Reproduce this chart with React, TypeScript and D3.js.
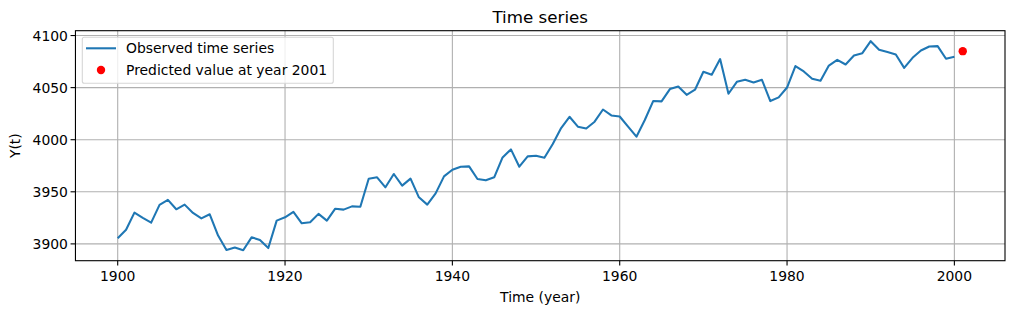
import React from "react";
import * as d3 from "d3";

const years: number[] = d3.range(1900, 2001);
const values: number[] = [
  3905.4, 3913.5, 3930.0, 3924.9, 3920.4, 3937.4, 3942.2, 3933.2, 3937.7, 3929.7,
  3924.5, 3928.4, 3908.0, 3894.2, 3896.5, 3893.9, 3906.3, 3903.8, 3896.0, 3922.3,
  3925.5, 3930.7, 3919.8, 3920.7, 3928.8, 3922.3, 3933.8, 3932.9, 3936.0, 3935.7,
  3962.6, 3963.9, 3954.3, 3967.1, 3955.9, 3962.6, 3944.7, 3937.7, 3948.5, 3964.8,
  3971.2, 3974.1, 3974.4, 3962.3, 3961.0, 3963.9, 3983.0, 3990.7, 3974.1, 3984.0,
  3984.6, 3982.7, 3995.9, 4011.2, 4022.0, 4012.5, 4010.8, 4017.3, 4029.0, 4023.3,
  4022.3, 4012.5, 4002.9, 4018.9, 4037.1, 4036.8, 4048.6, 4051.1, 4043.1, 4048.0,
  4065.2, 4062.3, 4077.4, 4044.1, 4055.6, 4057.5, 4054.9, 4057.5, 4037.1, 4040.6,
  4050.1, 4070.7, 4065.5, 4058.5, 4056.6, 4071.2, 4076.7, 4072.2, 4080.8, 4083.1,
  4094.6, 4086.3, 4084.1, 4081.8, 4069.0, 4078.6, 4085.6, 4089.5, 4089.8, 4077.7,
  4079.6,
];
const predictedYear = 2001;
const predictedValue = 4085.0;
const xTicks: number[] = [1900, 1920, 1940, 1960, 1980, 2000];
const yTicks: number[] = [3900, 3950, 4000, 4050, 4100];

const W = 1014;
const H = 314;
const left = 75.45;
const right = 1005;
const top = 30.7;
const bottom = 260.7;
const FONT = "'DejaVu Sans', sans-serif";
const FS = 13.9;

export default function App() {
  const xmin = 1900, xmax = predictedYear;
  const xpad = (xmax - xmin) * 0.05;
  const allY = [...values, predictedValue];
  const ymin = d3.min(allY)!, ymax = d3.max(allY)!;
  const ypad = (ymax - ymin) * 0.05;
  const x = d3.scaleLinear().domain([xmin - xpad, xmax + xpad]).range([left, right]);
  const y = d3.scaleLinear().domain([ymin - ypad, ymax + ypad]).range([bottom, top]);

  const line = d3
    .line<number>()
    .x((_, i) => x(years[i]))
    .y((d) => y(d));

  return (
    <svg
      width={W}
      height={H}
      style={{ position: "absolute", left: 0, top: 0, background: "#fff" }}
      fontFamily={FONT}
    >
      <rect x={0} y={0} width={W} height={H} fill="#fff" />
      {/* grid */}
      {xTicks.map((t) => (
        <line key={"gx" + t} x1={x(t)} x2={x(t)} y1={top} y2={bottom} stroke="#b0b0b0" strokeWidth={1.1} />
      ))}
      {yTicks.map((t) => (
        <line key={"gy" + t} x1={left} x2={right} y1={y(t)} y2={y(t)} stroke="#b0b0b0" strokeWidth={1.1} />
      ))}
      {/* data */}
      <path d={line(values) || ""} fill="none" stroke="#1f77b4" strokeWidth={2.08} strokeLinejoin="round" strokeLinecap="butt" />
      <circle cx={x(predictedYear)} cy={y(predictedValue)} r={4.2} fill="#ff0000" />
      {/* frame */}
      <rect x={left} y={top} width={right - left} height={bottom - top} fill="none" stroke="#000" strokeWidth={1.1} />
      {/* x ticks */}
      {xTicks.map((t) => (
        <g key={"tx" + t}>
          <line x1={x(t)} x2={x(t)} y1={bottom} y2={bottom + 4.9} stroke="#000" strokeWidth={1.1} />
          <text x={x(t)} y={bottom + 20.5} textAnchor="middle" fontSize={FS} fill="#000">
            {t}
          </text>
        </g>
      ))}
      {/* y ticks */}
      {yTicks.map((t) => (
        <g key={"ty" + t}>
          <line x1={left - 4.9} x2={left} y1={y(t)} y2={y(t)} stroke="#000" strokeWidth={1.1} />
          <text x={left - 7.5} y={y(t)} dy="0.36em" textAnchor="end" fontSize={FS} fill="#000">
            {t}
          </text>
        </g>
      ))}
      {/* labels */}
      <text x={(left + right) / 2} y={23} textAnchor="middle" fontSize={16.7} fill="#000">
        Time series
      </text>
      <text x={(left + right) / 2} y={302} textAnchor="middle" fontSize={FS} fill="#000">
        Time (year)
      </text>
      <text
        transform={`translate(20,${(top + bottom) / 2}) rotate(-90)`}
        textAnchor="middle"
        fontSize={FS}
        fill="#000"
      >
        Y(t)
      </text>
      {/* legend */}
      <g>
        <rect x={82.3} y={37.3} width={251} height={46} rx={2} fill="#fff" fillOpacity={0.8} stroke="#d6d6d6" strokeWidth={1.1} />
        <line x1={86} x2={116} y1={48.3} y2={48.3} stroke="#1f77b4" strokeWidth={2.08} />
        <text x={126} y={48.3} dy="0.36em" fontSize={FS} fill="#000">
          Observed time series
        </text>
        <circle cx={101} cy={70} r={4.2} fill="#ff0000" />
        <text x={126} y={70} dy="0.36em" fontSize={FS} fill="#000">
          Predicted value at year 2001
        </text>
      </g>
    </svg>
  );
}
